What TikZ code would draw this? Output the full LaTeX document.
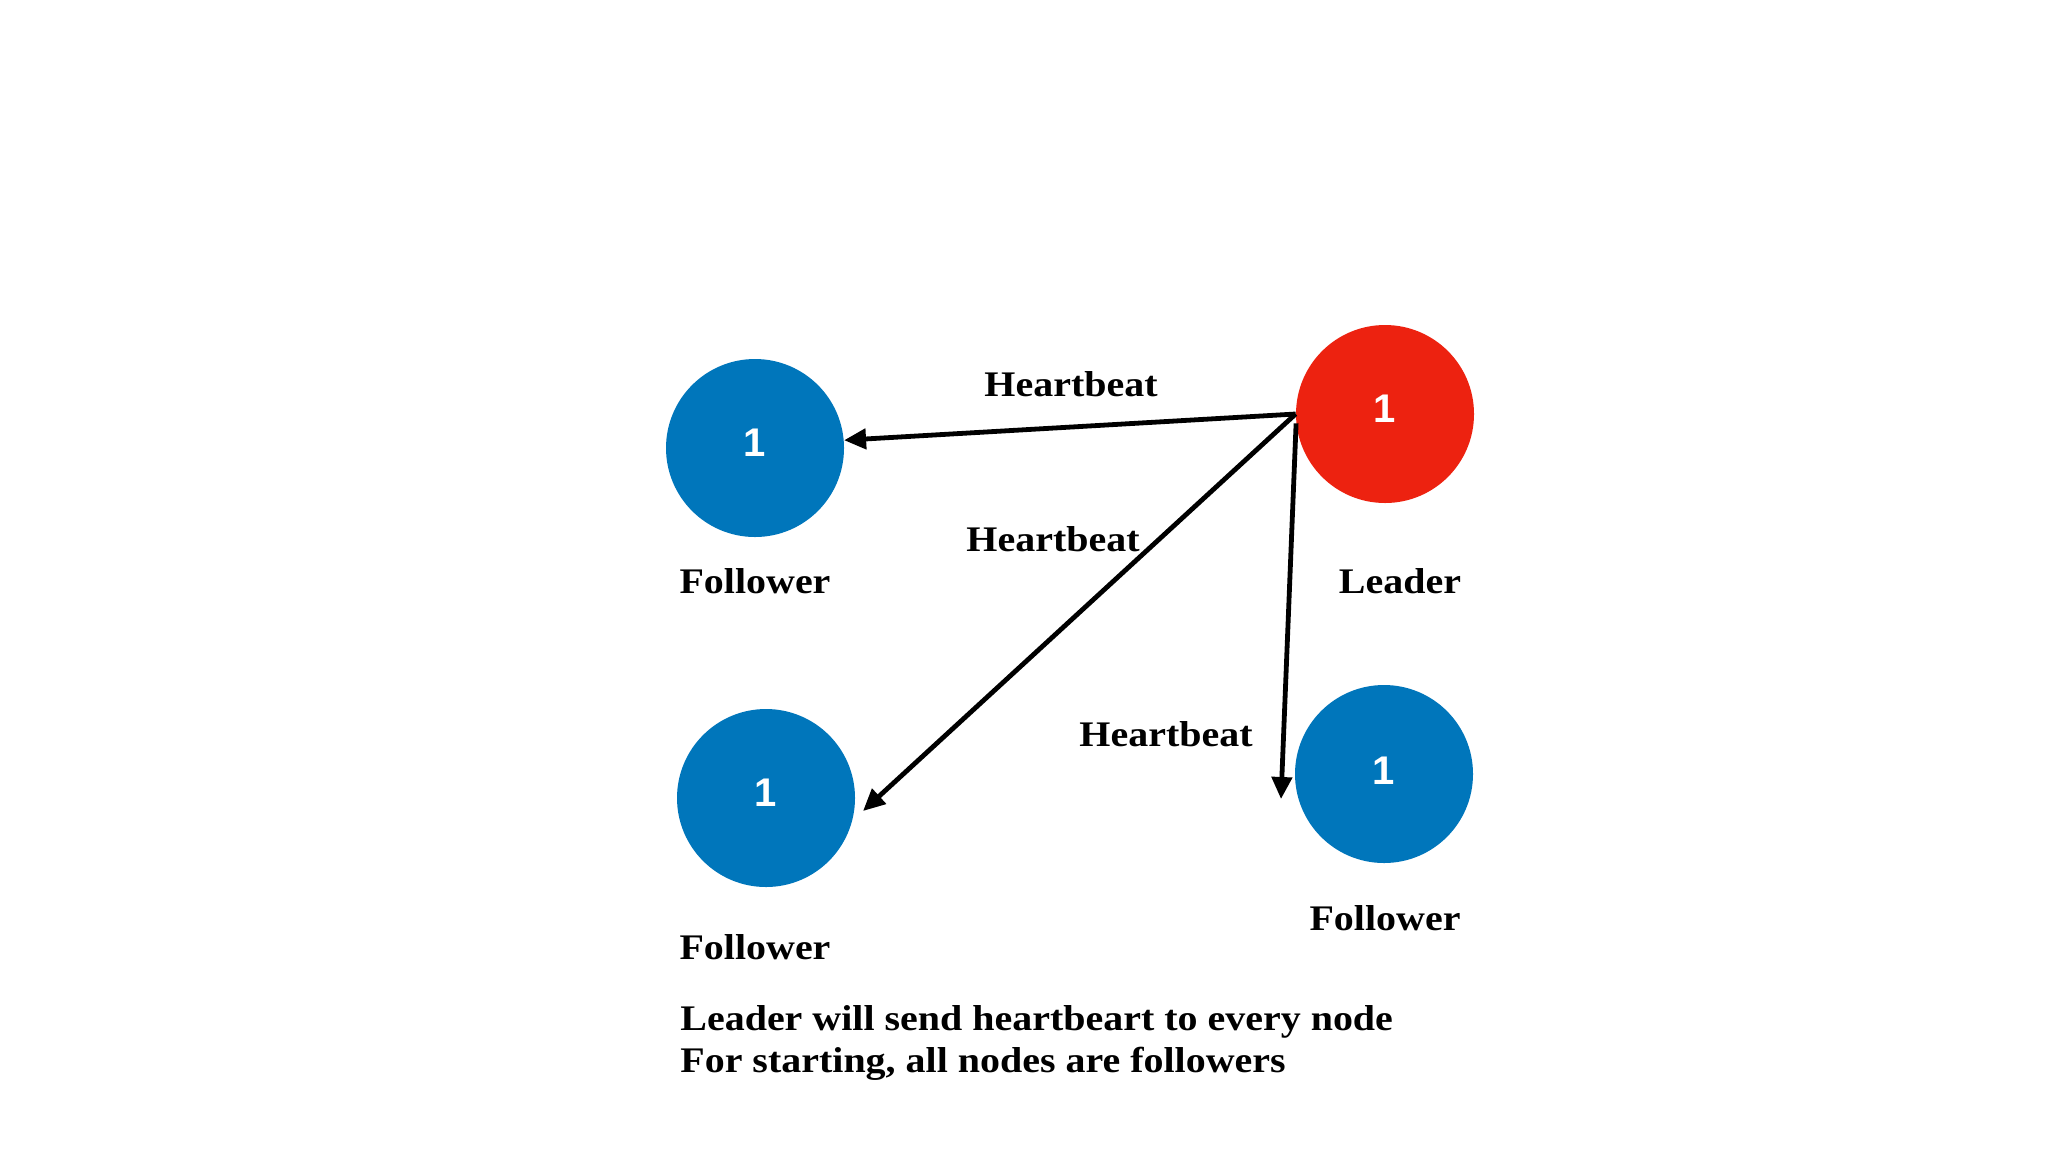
\documentclass[tikz,border=0pt]{standalone}
\usepackage{fontspec}
\usetikzlibrary{arrows.meta}
\newfontfamily\lblfont[FakeStretch=1.11]{Liberation Serif}
\newfontfamily\digfont{Liberation Sans}
\definecolor{nodeblue}{RGB}{0,118,187}
\definecolor{nodered}{RGB}{237,34,16}
\tikzset{
  srv/.style={circle, inner sep=0pt, minimum size=89pt},
  follower/.style={srv, fill=nodeblue},
  leader/.style={srv, fill=nodered},
  digit/.style={text=white, font=\digfont\bfseries\fontsize{20}{20}\selectfont, inner sep=0pt},
  lbl/.style={font=\lblfont\bfseries\fontsize{18}{21.5}\selectfont, inner sep=0pt, anchor=base},
  hb/.style={line width=2.4pt, -{Triangle[length=11pt,width=10pt]}}
}
\begin{document}
\begin{tikzpicture}[x=0.5pt,y=-0.5pt]
\useasboundingbox[fill=white] (0,0) rectangle (2048,1152);
% servers
\node[follower] (f1) at (755,448) {};
\node[leader]   (L)  at (1385,414) {};
\node[follower] (f2) at (766,798) {};
\node[follower] (f3) at (1384,774) {};
\node[digit] (d1) at ([yshift=2.5pt]f1.center) {1};
\node[digit] (dL) at ([yshift=2.5pt]L.center) {1};
\node[digit] (d2) at ([yshift=2.5pt]f2.center) {1};
\node[digit] (d3) at ([yshift=1.5pt]f3.center) {1};
% role labels
\node[lbl] (t1) at (755,593) {Follower};
\node[lbl] (tL) at (1400,593) {Leader};
\node[lbl] (t2) at (755,959) {Follower};
\node[lbl] (t3) at (1385,930) {Follower};
% heartbeat labels
\node[lbl] (h1) at (1071,396) {Heartbeat};
\node[lbl] (h2) at (1053,551) {Heartbeat};
\node[lbl] (h3) at (1166,746) {Heartbeat};
% arrows
\coordinate (e2) at (863,811);
\coordinate (e3) at (1281,799);
\draw[hb] (L.west) -- (f1.5);
\draw[hb] (L.west) -- (e2);
\draw[hb] (L.186) -- (e3);
% caption
\node[lbl, anchor=base west] (c1) at (680,1030) {Leader will send heartbeart to every node};
\node[lbl, anchor=base west] (c2) at (680,1072) {For starting, all nodes are followers};
\end{tikzpicture}
\end{document}
